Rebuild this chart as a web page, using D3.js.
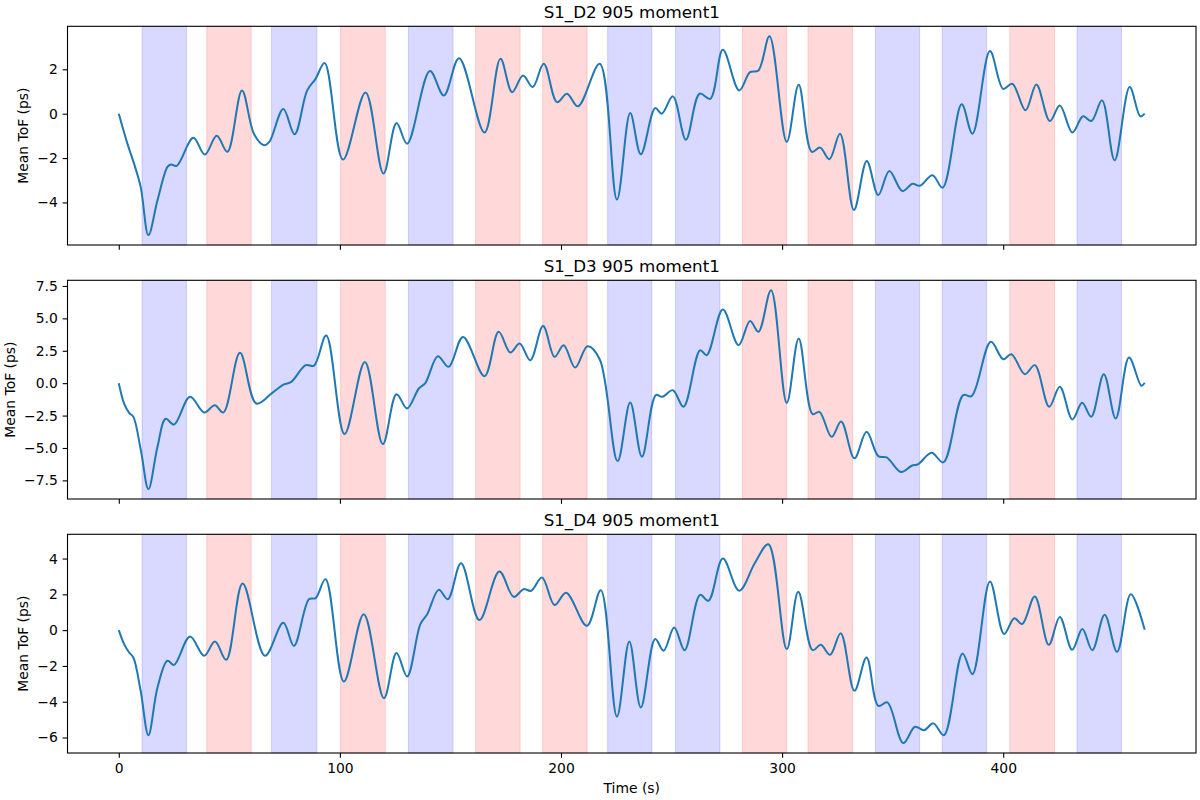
<!DOCTYPE html>
<html>
<head>
<meta charset="utf-8">
<script src="https://cdn.jsdelivr.net/npm/d3@7"></script>
<style>
  body { margin: 0; background: #fff; }
  text { font-family: "DejaVu Sans", sans-serif; fill: #000; }
</style>
</head>
<body>
<script>
// Sets width and height of SVG object
var w = 1200;
var h = 800;

// stimulus blocks (s)
var blockStarts = [10.5, 39.8, 69.1, 100.3, 131.0, 161.3, 191.7, 221.1, 251.8, 282.1, 311.7, 342.2, 372.4, 403.0, 433.4];
var blockEnds = [30.6, 59.9, 89.6, 120.5, 151.2, 181.5, 211.8, 241.1, 271.9, 302.1, 331.9, 362.2, 392.5, 423.2, 453.5];
var blockTypes = ["blue", "red", "blue", "red", "blue", "red", "red", "blue", "blue", "red", "red", "blue", "blue", "red", "blue"];

var channelNames = ["S1_D2", "S1_D3", "S1_D4"];

// [time (s), mean ToF (ps)]
var tofD2 = [[0,0],[3.9,-1.35],[6.9,-2.25],[9.9,-3.3],[13.4,-5.47],[17.5,-3.9],[22,-2.4],[23.5,-2.29],[26.2,-2.35],
  [33.7,-1.09],[38.9,-1.84],[44.3,-1.0],[49.1,-1.72],[55.7,1.05],[61.1,-0.9],[65.7,-1.42],[68.1,-1.27],[74.4,0.21],
  [79.5,-0.93],[85.2,1.05],[89,1.57],[93.1,2.28],[101.4,-2.07],[111.6,0.96],[119.7,-2.7],[125.6,-0.42],[130.4,-1.35],
  [140.7,1.92],[147,0.82],[153.9,2.5],[165.4,-0.85],[172.6,2.47],[177.9,0.97],[182.8,1.72],[187.2,1.2],[192.2,2.25],
  [198.2,0.52],[202.7,0.9],[207.7,0.33],[217.5,2.25],[225.3,-3.87],[231.3,0.03],[236.1,-1.83],[242.6,0.25],[245.6,0.0],
  [250.6,0.78],[256.5,-1.17],[262.7,0.9],[267.5,0.67],[273.2,2.88],[280.6,1.05],[285.5,1.87],[289.3,1.95],[294.3,3.49],
  [302.1,-1.27],[307.5,1.3],[313.4,-1.72],[317.2,-1.53],[321.4,-2.05],[326.2,-0.9],[332.5,-4.34],[338.3,-2.13],
  [343.5,-3.67],[348.5,-2.58],[354.4,-3.49],[359.0,-3.16],[362.3,-3.25],[368,-2.77],[372.6,-3.34],[381.2,0.42],
  [386.1,-0.9],[394.0,2.82],[400,1.12],[404.1,1.35],[410.1,0.15],[415.0,1.32],[421.1,-0.33],[425.6,0.37],[431.3,-0.85],
  [436.1,-0.12],[439.9,-0.33],[444.7,0.6],[450.4,-2.1],[457.2,1.2],[462,-0.12],[464,0.0]];

var tofD3 = [[0,0],[2.4,-1.57],[4.7,-2.29],[6.6,-2.6],[10,-5.2],[13.4,-8.17],[17.5,-4.9],[21.2,-2.75],[25,-3.19],
  [32.2,-1.05],[38.6,-2.26],[43.4,-1.7],[47.3,-2.26],[54.8,2.34],[62.2,-1.57],[69.4,-0.75],[74.7,-0.1],[78,0.1],
  [84.5,1.39],[88.3,1.36],[93.8,3.67],[102.1,-3.93],[111.3,1.64],[119.4,-4.7],[125.6,-0.85],[130.4,-1.95],[135.7,-0.41],
  [138.7,0.03],[144.3,2.08],[149.2,1.26],[155.7,3.57],[165.4,0.54],[171.8,3.96],[177.1,2.36],[181.3,3.06],[186.1,1.77],
  [191.9,4.42],[197.1,2.03],[201.2,2.93],[206.4,1.21],[212.0,2.85],[217.5,1.85],[225.6,-6.01],[231.3,-1.49],[236.6,-5.68],
  [242.9,-0.92],[245.9,-1.05],[250.6,-0.54],[255.4,-1.82],[262.9,2.54],[265.9,2.16],[273.2,5.68],[280.3,2.93],[285.5,4.8],
  [289.3,3.96],[295.0,7.17],[302.1,-1.52],[307.5,3.45],[313.8,-2.39],[316.9,-2.21],[322.4,-4.14],[326.7,-2.95],
  [332.7,-5.8],[338.2,-3.75],[343.5,-5.63],[347.3,-5.73],[353.8,-6.86],[358.6,-6.37],[361.6,-6.24],[367.6,-5.37],
  [372.9,-6.11],[381.9,-0.92],[385.7,-1.0],[394.4,3.19],[400.0,1.85],[403.7,2.23],[409.8,0.69],[414.3,1.39],[420.8,-1.82],
  [425.6,-0.28],[431.3,-2.8],[435.7,-1.52],[439.8,-2.59],[445.5,0.69],[450.9,-2.72],[456.9,1.98],[462.5,-0.2],[464,0.03]];

var tofD4 = [[0,0],[2.4,-0.78],[4.7,-1.25],[6.6,-1.53],[9.9,-3.4],[13.4,-5.87],[17.5,-3.2],[22,-1.71],[25,-1.94],
  [32.2,-0.35],[38.6,-1.43],[43.5,-0.63],[48.6,-1.66],[56,2.61],[66.1,-1.43],[74.4,0.41],[79.2,-0.88],[86,1.73],[89,1.79],
  [93.5,2.85],[101.8,-2.87],[110.8,0.89],[119.9,-3.8],[125.6,-1.28],[130.4,-2.59],[136.4,0.34],[139.5,0.89],[144.7,2.25],
  [148.8,1.73],[154.8,3.74],[163.1,0.56],[172.1,3.28],[178.6,1.86],[183.1,2.29],[186.5,2.2],[191.4,2.94],[197.1,1.4],
  [202.3,2.09],[211.7,0.24],[218.0,2.23],[225.3,-4.84],[230.9,-0.63],[236.1,-4.32],[242.6,-0.5],[246.4,-1.15],[251.2,0.15],
  [255.9,-1.12],[262.9,1.97],[266.7,1.64],[273.2,4.0],[280.6,2.2],[287.8,3.78],[293.8,4.8],[302.1,-1.06],[307.3,2.15],
  [313.8,-1.12],[317.5,-0.82],[321.7,-1.38],[326.5,-0.17],[332.7,-3.39],[338.2,-1.53],[343.5,-4.23],[347.6,-4.04],
  [354.8,-6.31],[360.1,-5.4],[364.2,-5.59],[368.4,-5.21],[373.2,-5.87],[381.6,-1.3],[386.1,-2.46],[394.0,2.72],
  [400.4,-0.22],[405.0,0.67],[408.6,0.34],[414.3,1.88],[420.6,-0.82],[425.6,0.74],[431.2,-1.1],[435.8,0.06],[440.3,-1.12],
  [445.9,0.86],[451.5,-1.21],[457.7,2.01],[464,0.02]];

var xTicks = [0, 100, 200, 300, 400];
var yTicksD2 = [-4, -2, 0, 2];
var yTicksD3 = [-7.5, -5.0, -2.5, 0.0, 2.5, 5.0, 7.5];
var yTicksD4 = [-6, -4, -2, 0, 2, 4];

var panels = [
  { name: channelNames[0], data: tofD2, ticks: yTicksD2, fmt: "d" },
  { name: channelNames[1], data: tofD3, ticks: yTicksD3, fmt: ".1f" },
  { name: channelNames[2], data: tofD4, ticks: yTicksD4, fmt: "d" }
];

var left = 67.5, right = 1196;
var tops = [26.3, 280.3, 534.3];
var ph = 218.7;
var tick = 4.86;

var svg = d3.select("body").append("svg").attr("width", w).attr("height", h);

// shared time axis, matplotlib-like 5% margins
var tMax = d3.max(tofD2, function(d){ return d[0]; });
var x = d3.scaleLinear().domain([-0.05 * tMax, 1.05 * tMax]).range([left, right]);

var bandColor = { blue: "#0000ff", red: "#ff0000" };

panels.forEach(function(p, i) {
  var top = tops[i], bottom = top + ph;
  var ext = d3.extent(p.data, function(d){ return d[1]; });
  var pad = (ext[1] - ext[0]) * 0.05;
  var y = d3.scaleLinear().domain([ext[0] - pad, ext[1] + pad]).range([bottom, top]);

  var g = svg.append("g");

  // stimulus bands
  g.selectAll("rect.band").data(blockStarts).enter().append("rect")
    .attr("class", "band")
    .attr("x", function(d){ return x(d); })
    .attr("width", function(d, k){ return x(blockEnds[k]) - x(d); })
    .attr("y", top)
    .attr("height", ph)
    .attr("fill", function(d, k){ return bandColor[blockTypes[k]]; })
    .attr("fill-opacity", 0.15)
    .attr("stroke", function(d, k){ return bandColor[blockTypes[k]]; })
    .attr("stroke-opacity", 0.15)
    .attr("stroke-width", 1);

  var line = d3.line()
    .x(function(d){ return x(d[0]); })
    .y(function(d){ return y(d[1]); })
    .curve(d3.curveCatmullRom.alpha(0.5));

  g.append("path").datum(p.data)
    .attr("d", line)
    .attr("fill", "none")
    .attr("stroke", "#1f77b4")
    .attr("stroke-width", 2)
    .attr("stroke-linejoin", "round");

  // y axis
  var yAxis = g.append("g").attr("transform", "translate(" + left + ",0)")
    .call(d3.axisLeft(y).tickValues(p.ticks).tickFormat(d3.format(p.fmt)).tickSize(tick).tickPadding(tick));
  yAxis.select(".domain").remove();
  yAxis.selectAll("line").attr("stroke-width", 1.1);
  yAxis.selectAll("text").style("font-size", "13.9px").style("font-family", "DejaVu Sans");

  // x axis (labels only on last panel)
  var xAxis = g.append("g").attr("transform", "translate(0," + bottom + ")")
    .call(d3.axisBottom(x).tickValues(xTicks).tickSize(tick).tickPadding(tick));
  xAxis.select(".domain").remove();
  xAxis.selectAll("line").attr("stroke-width", 1.1);
  xAxis.selectAll("text").style("font-size", "13.9px").style("font-family", "DejaVu Sans")
    .attr("y", 772.5 - bottom).attr("dy", 0);
  if (i < panels.length - 1) xAxis.selectAll("text").remove();

  // frame
  g.append("rect")
    .attr("x", left).attr("y", top).attr("width", right - left).attr("height", ph)
    .attr("fill", "none").attr("stroke", "#000").attr("stroke-width", 1.1);

  // title
  g.append("text")
    .attr("x", (left + right) / 2).attr("y", top - 8)
    .attr("text-anchor", "middle")
    .style("font-size", "16.7px")
    .text(p.name + " 905 moment1");

  // y label placed left of widest tick label
  var maxW = 0;
  yAxis.selectAll("text").each(function(){ maxW = Math.max(maxW, this.getComputedTextLength()); });
  var lx = left - 2 * tick - maxW - 5.56 - 3.3;
  g.append("text")
    .attr("transform", "translate(" + lx + "," + (top + ph / 2) + ") rotate(-90)")
    .attr("text-anchor", "middle")
    .style("font-size", "13.9px")
    .text("Mean ToF (ps)");
});

svg.append("text")
  .attr("x", (left + right) / 2).attr("y", 792.5)
  .attr("text-anchor", "middle")
  .style("font-size", "13.9px")
  .text("Time (s)");
</script>
</body>
</html>
